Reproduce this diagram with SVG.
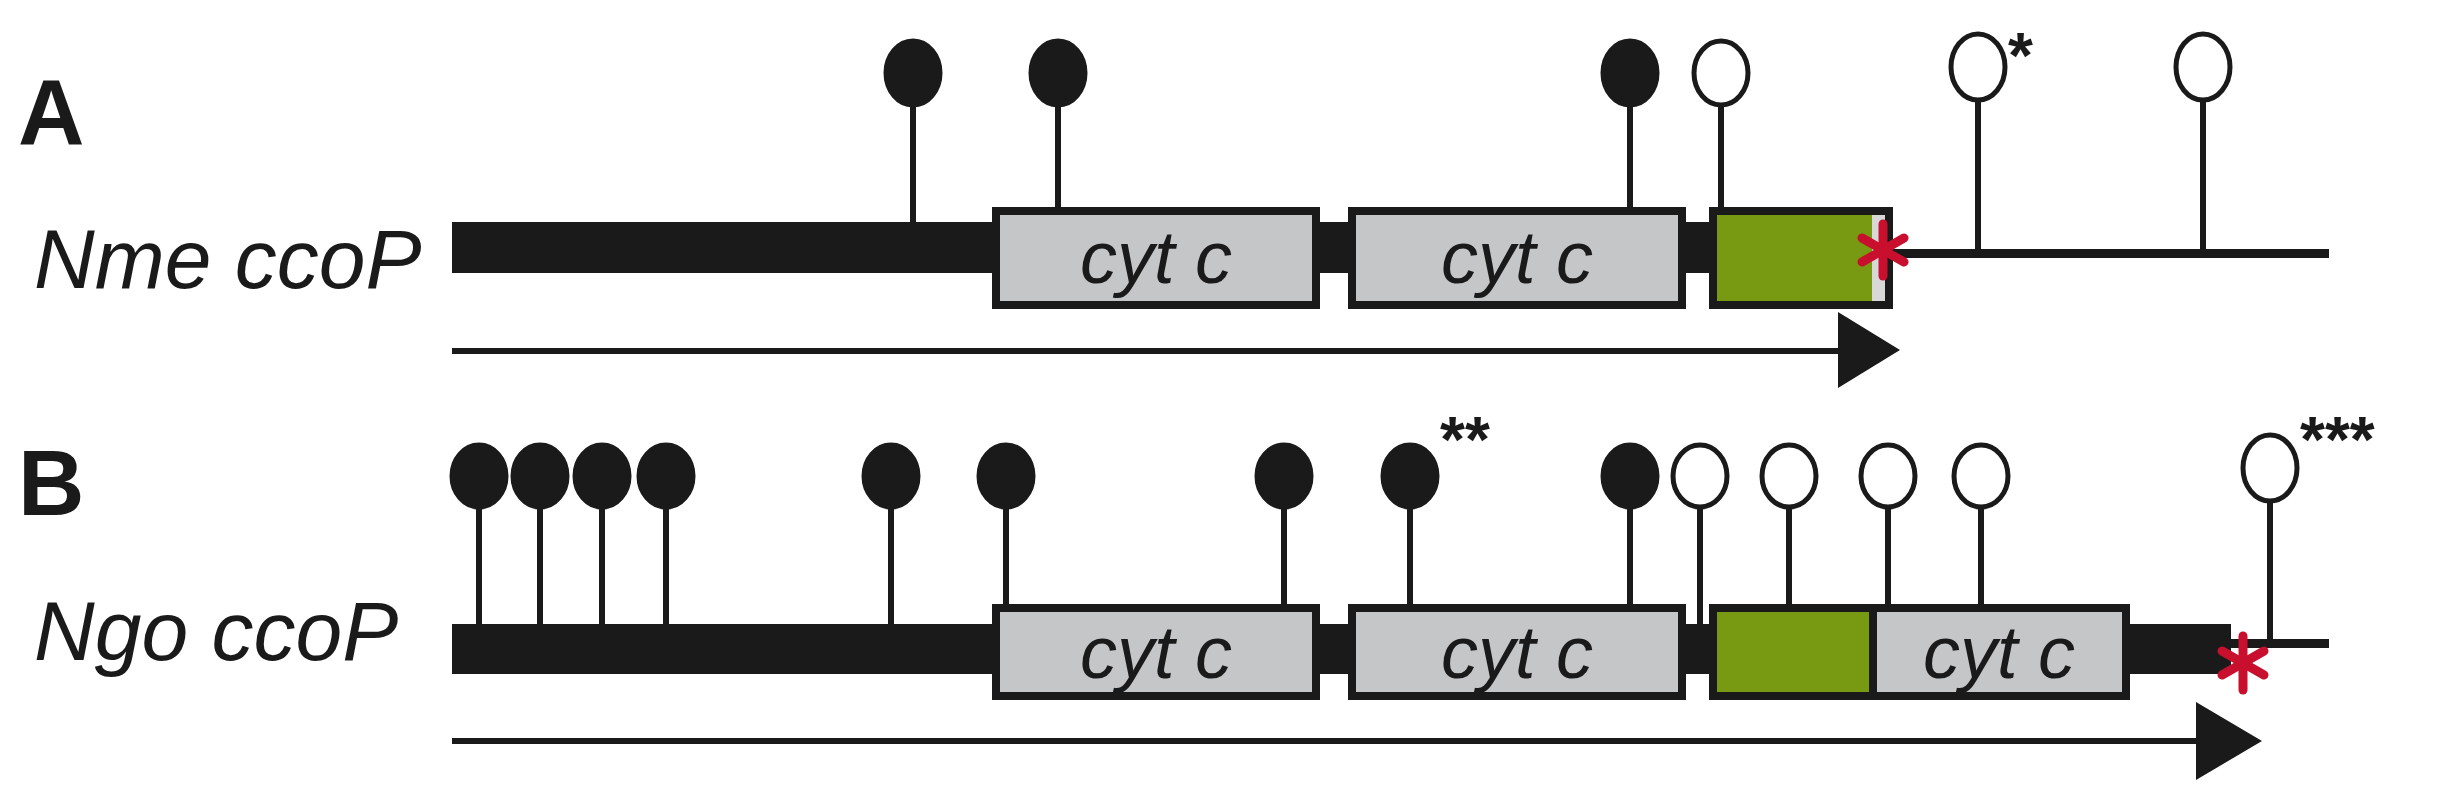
<svg xmlns="http://www.w3.org/2000/svg" width="2446" height="800" viewBox="0 0 2446 800">
<style>
.lbl{font-family:"Liberation Sans",Arial,sans-serif;font-weight:bold;font-size:92px;fill:#1a1a1a}
.gene{font-family:"Liberation Sans",Arial,sans-serif;font-style:italic;font-size:84px;fill:#1a1a1a}
.cyt{font-family:"Liberation Sans",Arial,sans-serif;font-style:italic;font-size:74px;fill:#1a1a1a;text-anchor:middle}
.ast{font-family:"Liberation Sans",Arial,sans-serif;font-weight:bold;font-size:64px;fill:#1a1a1a}
.box{fill:#c4c6c8;stroke:#1a1a1a;stroke-width:8}
.grn{fill:#789a12;stroke:#1a1a1a;stroke-width:8}
.bar{fill:#1a1a1a}
.stem{stroke:#1a1a1a;stroke-width:6}
.full{fill:#1a1a1a;stroke:#1a1a1a;stroke-width:5}
.open{fill:#fff;stroke:#1a1a1a;stroke-width:5}
.red{stroke:#c8102e;stroke-width:9;stroke-linecap:round}
</style>
<text class="lbl" x="18" y="144">A</text>
<text class="lbl" x="18" y="515">B</text>
<g id="nme">
<text class="gene" x="34" y="288">Nme ccoP</text>
<rect class="bar" x="452" y="222" width="1300" height="51"/>
<rect x="1891" y="249" width="438" height="9" class="bar"/>
<rect class="box" x="996" y="211" width="320" height="94"/>
<text class="cyt" x="1156" y="283">cyt c</text>
<rect class="box" x="1352" y="211" width="330" height="94"/>
<text class="cyt" x="1517" y="283">cyt c</text>
<rect x="1713" y="211" width="176" height="94" fill="#d8d8d8" stroke="#1a1a1a" stroke-width="8"/>
<rect x="1717" y="215" width="155" height="86" fill="#789a12"/>
<line class="red" x1="1883" y1="224" x2="1883" y2="276"/>
<line class="red" x1="1862" y1="238" x2="1904" y2="262"/>
<line class="red" x1="1862" y1="262" x2="1904" y2="238"/>
</g>
<g id="nme-sites">
<line class="stem" x1="913" y1="100" x2="913" y2="222"/><ellipse class="full" cx="913" cy="73" rx="27" ry="32"/>
<line class="stem" x1="1058" y1="100" x2="1058" y2="208"/><ellipse class="full" cx="1058" cy="73" rx="27" ry="32"/>
<line class="stem" x1="1630" y1="100" x2="1630" y2="208"/><ellipse class="full" cx="1630" cy="73" rx="27" ry="32"/>
<line class="stem" x1="1721" y1="100" x2="1721" y2="208"/><ellipse class="open" cx="1721" cy="73" rx="27" ry="32"/>
<line class="stem" x1="1978" y1="95" x2="1978" y2="253"/><ellipse class="open" cx="1978" cy="67" rx="27" ry="33"/>
<line class="stem" x1="2203" y1="95" x2="2203" y2="253"/><ellipse class="open" cx="2203" cy="67" rx="27" ry="33"/>
<text class="ast" x="2008" y="78">*</text>
</g>
<g id="ngo">
<text class="gene" x="34" y="660">Ngo ccoP</text>
<rect class="bar" x="452" y="624" width="1779" height="50"/>
<rect class="bar" x="2231" y="639" width="98" height="9"/>
<rect class="box" x="996" y="608" width="320" height="88"/>
<text class="cyt" x="1156" y="678">cyt c</text>
<rect class="box" x="1352" y="608" width="330" height="88"/>
<text class="cyt" x="1517" y="678">cyt c</text>
<rect class="grn" x="1713" y="608" width="160" height="88"/>
<rect class="box" x="1873" y="608" width="253" height="88"/>
<text class="cyt" x="1999" y="678">cyt c</text>
<line class="red" x1="2243" y1="636" x2="2243" y2="690"/>
<line class="red" x1="2222" y1="651" x2="2264" y2="675"/>
<line class="red" x1="2222" y1="675" x2="2264" y2="651"/>
</g>
<g id="ngo-sites">
<line class="stem" x1="479" y1="500" x2="479" y2="624"/><ellipse class="full" cx="479" cy="476" rx="27" ry="31"/>
<line class="stem" x1="540" y1="500" x2="540" y2="624"/><ellipse class="full" cx="540" cy="476" rx="27" ry="31"/>
<line class="stem" x1="602" y1="500" x2="602" y2="624"/><ellipse class="full" cx="602" cy="476" rx="27" ry="31"/>
<line class="stem" x1="666" y1="500" x2="666" y2="624"/><ellipse class="full" cx="666" cy="476" rx="27" ry="31"/>
<line class="stem" x1="891" y1="500" x2="891" y2="624"/><ellipse class="full" cx="891" cy="476" rx="27" ry="31"/>
<line class="stem" x1="1006" y1="500" x2="1006" y2="606"/><ellipse class="full" cx="1006" cy="476" rx="27" ry="31"/>
<line class="stem" x1="1284" y1="500" x2="1284" y2="606"/><ellipse class="full" cx="1284" cy="476" rx="27" ry="31"/>
<line class="stem" x1="1410" y1="500" x2="1410" y2="606"/><ellipse class="full" cx="1410" cy="476" rx="27" ry="31"/>
<line class="stem" x1="1630" y1="500" x2="1630" y2="606"/><ellipse class="full" cx="1630" cy="476" rx="27" ry="31"/>
<line class="stem" x1="1700" y1="500" x2="1700" y2="624"/><ellipse class="open" cx="1700" cy="476" rx="27" ry="31"/>
<line class="stem" x1="1789" y1="500" x2="1789" y2="606"/><ellipse class="open" cx="1789" cy="476" rx="27" ry="31"/>
<line class="stem" x1="1888" y1="500" x2="1888" y2="606"/><ellipse class="open" cx="1888" cy="476" rx="27" ry="31"/>
<line class="stem" x1="1981" y1="500" x2="1981" y2="606"/><ellipse class="open" cx="1981" cy="476" rx="27" ry="31"/>
<line class="stem" x1="2270" y1="495" x2="2270" y2="643"/><ellipse class="open" cx="2270" cy="468" rx="27" ry="33"/>
<text class="ast" x="1440" y="462">**</text>
<text class="ast" x="2300" y="462">***</text>
</g>
<g id="connectors">
<line x1="452" y1="351" x2="1845" y2="351" stroke="#1a1a1a" stroke-width="6"/>
<polygon points="1838,312 1900,350 1838,388" fill="#1a1a1a"/>
<line x1="452" y1="741" x2="2200" y2="741" stroke="#1a1a1a" stroke-width="6"/>
<polygon points="2196,702 2262,741 2196,780" fill="#1a1a1a"/>
</g>
</svg>
